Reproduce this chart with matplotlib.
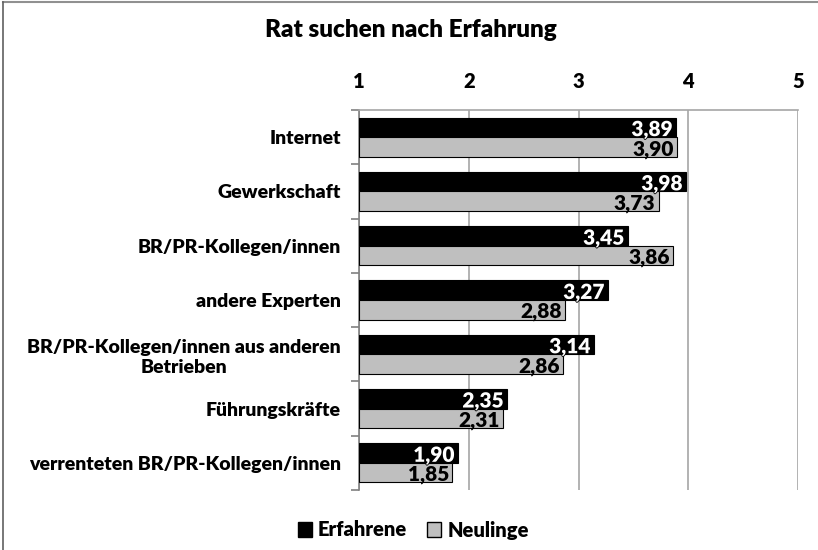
import matplotlib
matplotlib.use("Agg")
import matplotlib.pyplot as plt
import matplotlib.patheffects as pe
from matplotlib.patches import Patch
from matplotlib.lines import Line2D
import numpy as np

categories = ["Internet", "Gewerkschaft", "BR/PR-Kollegen/innen", "andere Experten",
              "BR/PR-Kollegen/innen aus anderen\nBetrieben", "Führungskräfte",
              "verrenteten BR/PR-Kollegen/innen"]
erfahrene = [3.89, 3.98, 3.45, 3.27, 3.14, 2.35, 1.90]
neulinge = [3.90, 3.73, 3.86, 2.88, 2.86, 2.31, 1.85]
xticks = [1, 2, 3, 4, 5]
series_names = ["Erfahrene", "Neulinge"]
title = "Rat suchen nach Erfahrung"

plt.rcParams['font.family'] = ['Lato', 'DejaVu Sans']
W = 'heavy'
plt.rcParams['font.weight'] = W

fig = plt.figure(figsize=(8.18, 5.5), dpi=100)
ax = fig.add_axes([359/818, 1-490/550, (798-359)/818, (490-110)/550])

y = np.arange(len(categories))
h = 0.36
base = 1
ax.barh(y - h/2, np.array(erfahrene) - base, left=base, height=h, color='black',
        edgecolor='black', linewidth=0.8, zorder=3)
ax.barh(y + h/2, np.array(neulinge) - base, left=base, height=h, color='#BFBFBF',
        edgecolor='black', linewidth=0.8, zorder=3)

def fmt(v):
    return f"{v:.2f}".replace('.', ',')

for yi, v in zip(y, erfahrene):
    ax.text(v - 0.03, yi - h/2 + 0.05, fmt(v), ha='right', va='center', color='white',
            fontsize=15, fontweight=W, zorder=5,
            path_effects=[pe.withStroke(linewidth=1.2, foreground='black')])
for yi, v in zip(y, neulinge):
    ax.text(v - 0.03, yi + h/2 + 0.04, fmt(v), ha='right', va='center', color='black',
            fontsize=15, fontweight=W, zorder=5)

ax.set_xlim(1, 5)
ax.set_ylim(len(categories) - 0.5, -0.5)
ax.xaxis.tick_top()
ax.set_xticks(xticks)
ax.set_xticklabels([str(t) for t in xticks], fontsize=14.5, fontweight=W)
ax.tick_params(axis='x', length=0, pad=14)
ax.xaxis.grid(True, color='#A6A6A6', linewidth=1.2, zorder=0)

ax.set_yticks(y)
ax.set_yticklabels(categories, fontsize=14, fontweight=W, ha='right',
                   multialignment='center')
ax.tick_params(axis='y', length=0, pad=13)
ax.set_yticks(np.arange(-0.5, len(categories)), minor=True)
ax.tick_params(axis='y', which='minor', length=6, color='#808080', width=1.2)

for s in ['right', 'bottom']:
    ax.spines[s].set_visible(False)
ax.spines['top'].set_color('#A6A6A6')
ax.spines['top'].set_linewidth(1.2)
ax.spines['left'].set_color('#808080')
ax.spines['left'].set_linewidth(1.2)

fig.text(0.502, 1-30/550, title, ha='center', va='center', fontsize=17.5, fontweight=W)

handles = [Patch(facecolor='black', edgecolor='black', label=series_names[0]),
           Patch(facecolor='#BFBFBF', edgecolor='black', label=series_names[1])]
fig.legend(handles=handles, loc='center', bbox_to_anchor=(0.505, 1-530/550), ncol=2,
           frameon=False, prop={'size': 14.5, 'weight': W}, handlelength=0.7,
           handleheight=0.7, handletextpad=0.3, columnspacing=1.0)

fig.add_artist(Line2D([0.004, 1], [0.996, 0.996], color='#909090', linewidth=1.5,
                      transform=fig.transFigure))
fig.add_artist(Line2D([0.004, 0.004], [0, 0.996], color='#606060', linewidth=1.2,
                      transform=fig.transFigure))

fig.savefig("out.png", dpi=100)
